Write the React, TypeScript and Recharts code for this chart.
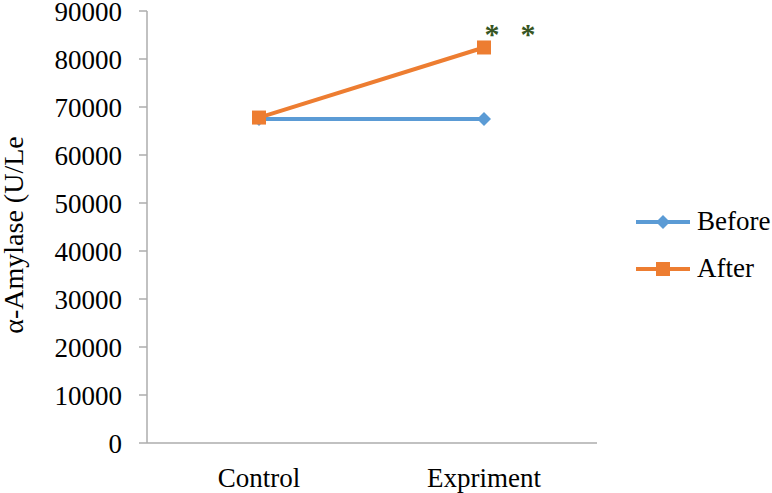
import React from 'react';
import { LineChart, Line, XAxis, YAxis } from 'recharts';

const categories = ['Control', 'Expriment'];
const beforeValues = [67500, 67500];
const afterValues = [67800, 82400];
const significance = ['', '*'];
const yTicks = [0, 10000, 20000, 30000, 40000, 50000, 60000, 70000, 80000, 90000];

const BLUE = '#5B9BD5';
const ORANGE = '#ED7D31';
const GREEN = '#375623';
const AXIS = '#ADADAD';
const FONT = '"Liberation Serif", "Times New Roman", serif';

const chartData = categories.map((name, i) => ({
  name,
  before: beforeValues[i],
  after: afterValues[i],
  mark: significance[i],
}));

const Diamond = (props: any) => {
  const { cx, cy } = props;
  if (cx == null || cy == null) return null;
  const r = 7;
  return (
    <polygon
      points={`${cx},${cy - r} ${cx + r},${cy} ${cx},${cy + r} ${cx - r},${cy}`}
      fill={BLUE}
    />
  );
};

const Square = (props: any) => {
  const { cx, cy } = props;
  if (cx == null || cy == null) return null;
  const s = 7;
  return <rect x={cx - s} y={cy - s} width={s * 2} height={s * 2} fill={ORANGE} />;
};

const YTick = (props: any) => {
  const { x, y, payload } = props;
  return (
    <text x={x} y={y} dy="0.36em" textAnchor="end" fill="#000" fontSize={27} fontFamily={FONT}>
      {payload.value}
    </text>
  );
};

const XTick = (props: any) => {
  const { x, y, payload } = props;
  return (
    <text x={x} y={y} dy="0.71em" textAnchor="middle" fill="#000" fontSize={27} fontFamily={FONT}>
      {payload.value}
    </text>
  );
};

// the two asterisks over the Expriment point of "After"
const StarLabel = (props: any) => {
  const { x, y, value } = props;
  if (!value) return null;
  return (
    <g fill={GREEN} fontFamily={FONT} fontSize={30} fontWeight="bold">
      <text x={x + 8} y={y - 3} textAnchor="middle">*</text>
      <text x={x + 44} y={y - 3} textAnchor="middle">*</text>
    </g>
  );
};

const LegendBox = () => {
  const rows = [
    { label: 'Before', color: BLUE, shape: 'diamond' },
    { label: 'After', color: ORANGE, shape: 'square' },
  ];
  return (
    <div style={{ position: 'absolute', left: 635, top: 198, width: 137 }}>
      {rows.map((r) => (
        <div key={r.label} style={{ display: 'flex', alignItems: 'center', height: 47 }}>
          <svg width={60} height={20} style={{ marginRight: 2 }}>
            <line x1={1} y1={10} x2={55} y2={10} stroke={r.color} strokeWidth={4} />
            {r.shape === 'diamond' ? (
              <polygon points="28,3 35,10 28,17 21,10" fill={r.color} />
            ) : (
              <rect x={21} y={3} width={14} height={14} fill={r.color} />
            )}
          </svg>
          <span style={{ fontFamily: FONT, fontSize: 27, color: '#000', lineHeight: '27px' }}>
            {r.label}
          </span>
        </div>
      ))}
    </div>
  );
};

export default function App() {
  return (
    <div style={{ position: 'absolute', left: 0, top: 0, width: 772, height: 493, background: '#fff' }}>
      <LineChart
        width={772}
        height={493}
        data={chartData}
        margin={{ top: 11, right: 175, bottom: 0, left: 0 }}
      >
        <XAxis
          dataKey="name"
          padding={{ left: 112, right: 113 }}
          height={50}
          interval={0}
          tickLine={false}
          tickSize={0}
          tickMargin={25}
          axisLine={{ stroke: AXIS, strokeWidth: 1.5 }}
          tick={<XTick />}
        />
        <YAxis
          width={147}
          domain={[0, 90000]}
          ticks={yTicks}
          interval={0}
          tickSize={8}
          tickMargin={17}
          axisLine={{ stroke: AXIS, strokeWidth: 1.5 }}
          tickLine={{ stroke: AXIS, strokeWidth: 1.5 }}
          tick={<YTick />}
          label={{
            value: 'α-Amylase (U/Le',
            angle: -90,
            position: 'insideLeft',
            dx: 8,
            dy: 8,
            style: { fill: '#000', fontSize: 28, fontFamily: FONT, textAnchor: 'middle' },
          }}
        />
        <Line
          dataKey="before"
          name="Before"
          stroke={BLUE}
          strokeWidth={4}
          dot={<Diamond />}
          activeDot={false}
          isAnimationActive={false}
        />
        <Line
          dataKey="after"
          name="After"
          stroke={ORANGE}
          strokeWidth={4}
          dot={<Square />}
          activeDot={false}
          isAnimationActive={false}
          label={(p: any) => <StarLabel {...p} value={chartData[p.index]?.mark} key={p.index} />}
        />
      </LineChart>
      <LegendBox />
    </div>
  );
}
